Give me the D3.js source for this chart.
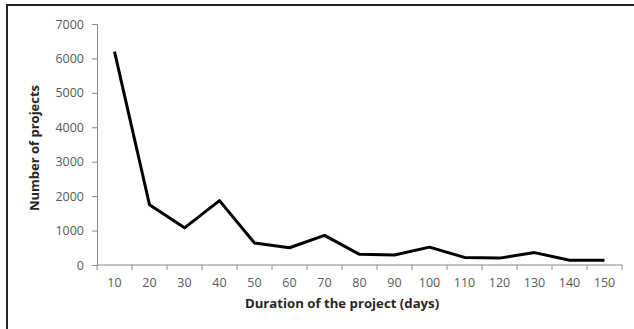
<!DOCTYPE html>
<html><head><meta charset="utf-8">
<script src="https://cdn.jsdelivr.net/npm/d3@7"></script>
<style>
body{margin:0;background:#fff;}
svg{display:block;}
</style></head>
<body>
<script>
const categories = [10,20,30,40,50,60,70,80,90,100,110,120,130,140,150];
const projects = [6200,1750,1080,1870,640,500,860,310,290,520,220,200,360,140,140];
const yTicks = [0,1000,2000,3000,4000,5000,6000,7000];
const xTitle = "Duration of the project (days)";
const yTitle = "Number of projects";

(function(){
const W = 634, H = 329;
const svg = d3.select("body").append("svg").attr("width", W).attr("height", H);

// frame (left and top border)
svg.append("line").attr("x1",7).attr("y1",5).attr("x2",W).attr("y2",5).attr("stroke","#222").attr("stroke-width",2);
svg.append("line").attr("x1",7).attr("y1",4).attr("x2",7).attr("y2",H).attr("stroke","#222").attr("stroke-width",2);

const mLeft = 97, mRight = 622, mTop = 24, mBottom = 265;
const x = d3.scaleBand().domain(categories).range([mLeft, mRight]);
const y = d3.scaleLinear().domain([0,7000]).range([mBottom, mTop]);

const font = "'Open Sans', 'Noto Sans', sans-serif";
const axisColor = "#888";

// y axis
const ya = svg.append("g").attr("transform",`translate(${mLeft},0)`)
  .call(d3.axisLeft(y).tickValues(yTicks).tickSize(5).tickPadding(8).tickFormat(d3.format("d")));
ya.select(".domain").attr("stroke",axisColor);
ya.selectAll(".tick line").attr("stroke",axisColor);
ya.selectAll("text").attr("fill","#595959").style("font-family",font).style("font-size","12.5px");

// x axis with ticks between categories
const xa = svg.append("g").attr("transform",`translate(0,${mBottom})`);
xa.append("line").attr("x1",mLeft).attr("x2",mRight).attr("y1",0).attr("y2",0).attr("stroke",axisColor);
const edges = categories.map(c => x(c)).concat([mRight]);
xa.selectAll("line.tk").data(edges).enter().append("line").attr("class","tk")
  .attr("x1",d=>d).attr("x2",d=>d).attr("y1",0).attr("y2",5).attr("stroke",axisColor);
xa.selectAll("text").data(categories).enter().append("text")
  .attr("x",d=>x(d)+x.bandwidth()/2).attr("y",18)
  .attr("dy","0.35em").attr("text-anchor","middle")
  .attr("fill","#595959").style("font-family",font).style("font-size","12.5px")
  .text(d=>d);

// line
const line = d3.line().x((d,i)=>x(categories[i])+x.bandwidth()/2).y(d=>y(d));
svg.append("path").datum(projects).attr("d",line)
  .attr("fill","none").attr("stroke","#000").attr("stroke-width",3).attr("stroke-linejoin","round");

// titles
svg.append("text").attr("x",(243+441)/2).attr("y",303).attr("dy","0.35em").attr("text-anchor","middle")
  .style("font-family",font).style("font-size","13.2px").style("font-weight","bold").attr("fill","#262626").text(xTitle);
svg.append("text").attr("transform","translate(34,148) rotate(-90)").attr("dy","0.35em").attr("text-anchor","middle")
  .style("font-family",font).style("font-size","13px").style("font-weight","bold").attr("fill","#262626").text(yTitle);
})();
</script>
</body></html>
